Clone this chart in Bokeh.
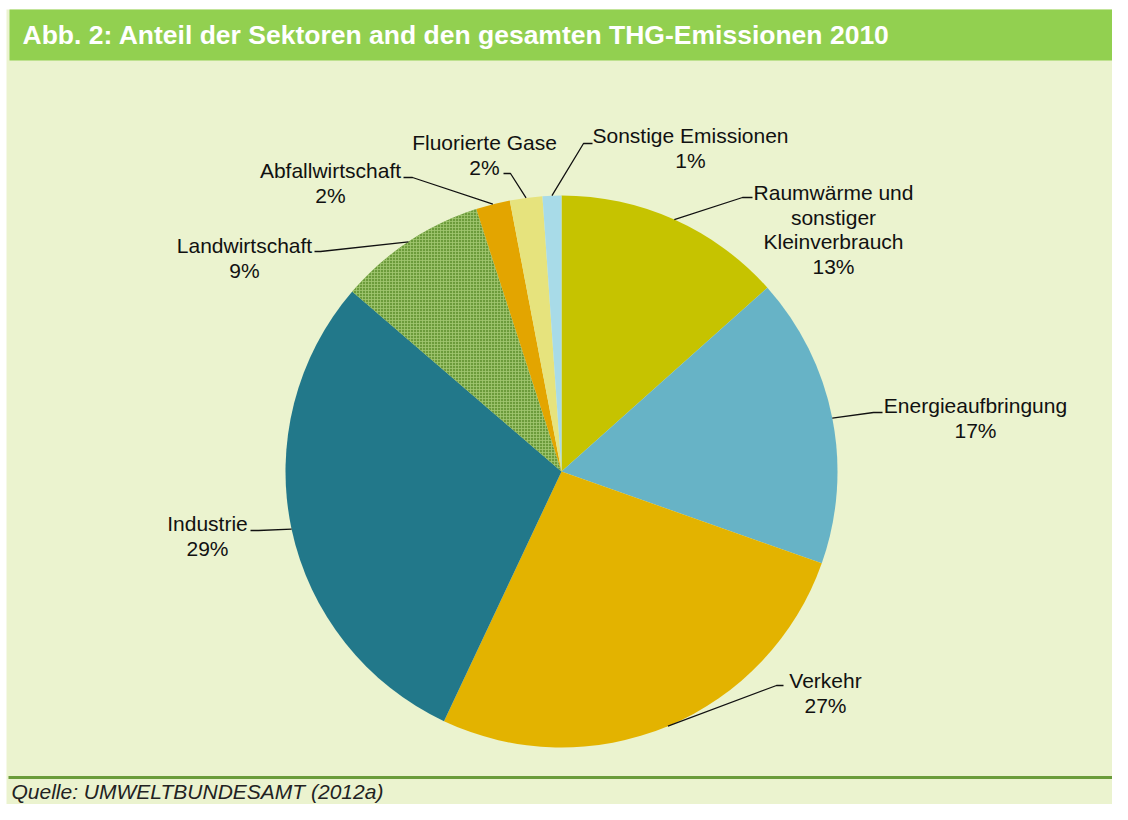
import numpy as np
from bokeh.plotting import figure
from bokeh.models import Range1d
from bokeh.embed import file_html
from bokeh.resources import INLINE
from bokeh.core.properties import value

# ---------------- data ----------------
title_text = "Abb. 2: Anteil der Sektoren and den gesamten THG-Emissionen 2010"
source_text = "Quelle: UMWELTBUNDESAMT (2012a)"
sectors = ["Raumwärme und\nsonstiger\nKleinverbrauch", "Energieaufbringung", "Verkehr",
           "Industrie", "Landwirtschaft", "Abfallwirtschaft", "Fluorierte Gase",
           "Sonstige Emissionen"]
shares = [13.4, 17.0, 26.6, 29.3, 8.7, 2.0, 1.9, 1.1]
colors = ["#c6c300", "#67b3c6", "#e3b300", "#22788a", "#6c9b3b", "#e3a500",
          "#e6e37d", "#a8dbe8"]

# ---------------- layout (reference pixel coords, y down) ----------------
W, H = 1112, 804
def Y(ry):
    return 820 - ry

CX, CY, R = 561, Y(471), 276
# label text centre x, first line centre y, leader elbow, leader end
label_cx = [833, 975, 825, 207, 244, 330, 484, 690]
label_y0 = [192, 405, 680, 523, 245, 170, 142, 135]
elbow = [(742, 197), (873, 412), (776, 685), (258, 530), (320, 251), (412, 177),
         (510, 173), (583, 143)]
lend = [(752, 197), (882, 412), (783, 685), (250, 530), (314, 251), (403, 177),
        (503, 173), (592, 143)]
LINE_H = 24.5
FONT = value("Liberation Sans")

p = figure(width=W, height=H, x_range=Range1d(0, W), y_range=Range1d(820 - H, 820),
           output_backend="svg", toolbar_location=None, x_axis_type=None, y_axis_type=None,
           min_border=0, background_fill_color="white", border_fill_color="white")
p.grid.visible = False
p.outline_line_color = None

# background panel, title bar, bottom rule
p.quad(left=[6], right=[1121], top=[Y(9)], bottom=[Y(830)], fill_color="#ebf3cf", line_color=None)
p.quad(left=[9], right=[1121], top=[Y(9)], bottom=[Y(60)], fill_color="#92d050", line_color=None)
p.segment(x0=[8], y0=[Y(777)], x1=[1121], y1=[Y(777)], line_color="#6a9c3a", line_width=3)

p.text(x=[22], y=[Y(34)], text=[title_text], text_font=FONT, text_font_style="bold",
       text_font_size="26.5px", text_color="white", text_baseline="middle", text_align="left")
p.text(x=[11], y=[Y(791)], text=[source_text], text_font=FONT, text_font_style="italic",
       text_font_size="21px", text_color="#222222", text_baseline="middle", text_align="left")

# pie
total = sum(shares)
cum = np.cumsum([0] + shares) / total
starts = np.pi / 2 - 2 * np.pi * cum[:-1]
ends = np.pi / 2 - 2 * np.pi * cum[1:]
p.wedge(x=CX, y=CY, radius=R, start_angle=starts, end_angle=ends, direction="clock",
        fill_color=colors, line_color=None)
i_lw = sectors.index("Landwirtschaft")
p.wedge(x=CX, y=CY, radius=R, start_angle=starts[i_lw], end_angle=ends[i_lw], direction="clock",
        fill_color=None, line_color=None, hatch_pattern="+", hatch_color="#a3c872",
        hatch_scale=3, hatch_weight=1, hatch_alpha=0.8)

# leaders
mids = (cum[:-1] + cum[1:]) / 2
xs, ys = [], []
for k, m in enumerate(mids):
    th = np.pi / 2 - 2 * np.pi * m
    px, py = CX + R * np.cos(th), CY + R * np.sin(th)
    xs.append([px, elbow[k][0], lend[k][0]])
    ys.append([py, Y(elbow[k][1]), Y(lend[k][1])])
p.multi_line(xs=xs, ys=ys, line_color="#111111", line_width=1.3)

# labels
tx, ty, tt = [], [], []
for k, name in enumerate(sectors):
    lines = name.split("\n") + [f"{round(shares[k] / total * 100)}%"]
    for j, ln in enumerate(lines):
        tx.append(label_cx[k])
        ty.append(Y(label_y0[k] + j * LINE_H))
        tt.append(ln)
p.text(x=tx, y=ty, text=tt, text_font=FONT, text_font_size="21px", text_color="#111111",
       text_align="center", text_baseline="middle")

open("out.html", "w").write(file_html(p, INLINE))
